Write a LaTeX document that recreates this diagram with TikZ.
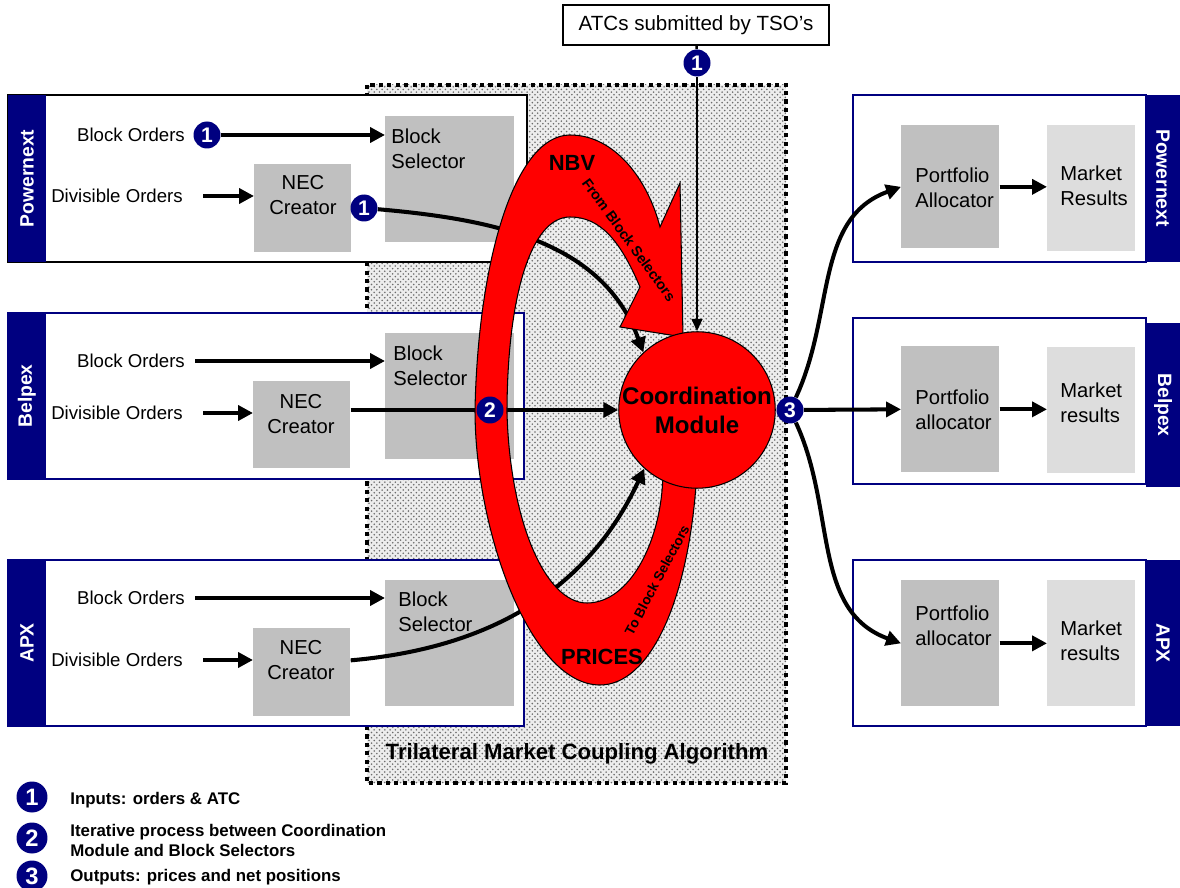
\documentclass[tikz,border=0pt]{standalone}
\usepackage{fontspec}
\setmainfont{Liberation Sans}
\usetikzlibrary{arrows.meta,patterns}

\definecolor{navy}{RGB}{0,0,128}
\definecolor{selgray}{RGB}{192,192,192}
\definecolor{resgray}{RGB}{221,221,221}

\newcommand\boxfont{\fontsize{11.5}{14.2}\selectfont}
\newcommand\ordfont{\fontsize{10.6}{12.5}\selectfont}

\pgfdeclarelayer{bg}
\pgfdeclarelayer{wires}
\pgfsetlayers{bg,wires,main}

\tikzset{
  arr/.style={line width=2.3pt, -{Triangle[length=8.5pt,width=8.5pt]}},
  badge/.style={circle, fill=navy, text=white, inner sep=0pt, minimum size=0.54cm,
    font=\bfseries\fontsize{12}{12}\selectfont},
  bigbadge/.style={badge, minimum size=0.62cm, font=\bfseries\fontsize{13.5}{13.5}\selectfont},
  exch/.style={draw=navy, line width=1.1pt, fill=white},
  stripe/.style={fill=navy},
  stripetxt/.style={text=white, inner sep=0pt, font=\bfseries\fontsize{11}{13}\selectfont},
  gbox/.style={fill=selgray, anchor=north west, inner sep=0pt},
  bsel/.style={gbox, minimum width=2.58cm, minimum height=2.52cm},
  necbox/.style={gbox, minimum width=1.94cm, minimum height=1.76cm},
  palloc/.style={gbox, minimum width=1.96cm, minimum height=2.52cm},
  mres/.style={gbox, fill=resgray, minimum width=1.76cm, minimum height=2.52cm},
  txt/.style={align=center, inner sep=0pt, font=\boxfont},
  ltxt/.style={anchor=west, align=left, inner sep=0pt, font=\boxfont},
  ord/.style={inner sep=0pt, font=\ordfont},
  ribbon/.style={fill=red, draw=black, line width=0.6pt},
  ribtxt/.style={inner sep=0pt, font=\bfseries\fontsize{8.2}{10}\selectfont},
  legtxt/.style={anchor=west, align=left, inner sep=0pt, font=\bfseries\fontsize{9.6}{11.9}\selectfont}
}

\begin{document}
\begin{tikzpicture}[x=0.02cm,y=0.02cm]
\useasboundingbox (0,0) rectangle (1180,-888);

\begin{pgfonlayer}{bg}
% algorithm area
\fill[gray!14] (367,-85) rectangle (786,-783);
\path[pattern=crosshatch dots, pattern color=gray!85!black] (367,-85) rectangle (786,-783);
\draw[line width=2.3pt, dash pattern=on 2.4pt off 2.4pt] (367,-85) rectangle (786,-783);
\node[font=\bfseries\fontsize{12.6}{15}\selectfont] (tmca) at (577,-754) {Trilateral Market Coupling Algorithm};

% Powernext
\draw[exch, draw=black] (8,-95) rectangle (527,-262);
\fill[stripe] (8,-95) rectangle (46,-262);
\node[stripetxt, rotate=90] at (27,-178.5) {Powernext};
\node[ord] (pbo) at (131,-135) {Block Orders};
\node[ord] (pdo) at (117,-196) {Divisible Orders};
\node[bsel] (pbs) at (385,-116) {};
\node[ltxt] at (391,-148.5) {Block\\Selector};
\node[necbox] (pnec) at (254,-164) {};
\node[txt] at (303,-195.5) {NEC\\Creator};

% Belpex
\draw[exch] (8,-313) rectangle (524,-479);
\fill[stripe] (8,-313) rectangle (46,-479);
\node[stripetxt, rotate=90] at (27,-396) {Belpex};
\node[ord] (bbo) at (131,-361) {Block Orders};
\node[ord] (bdo) at (117,-413) {Divisible Orders};
\node[bsel] (bbs) at (385,-333) {};
\node[ltxt] at (393,-366) {Block\\Selector};
\node[necbox, minimum height=1.74cm] (bnec) at (253,-381) {};
\node[txt] at (301,-414) {NEC\\Creator};

% APX
\draw[exch] (8,-560) rectangle (524,-726);
\fill[stripe] (8,-560) rectangle (46,-726);
\node[stripetxt, rotate=90] at (27,-643) {APX};
\node[ord] (abo) at (131,-598) {Block Orders};
\node[ord] (ado) at (117,-660) {Divisible Orders};
\node[bsel] (abs) at (385,-580) {};
\node[ltxt] at (398,-611.5) {Block\\Selector};
\node[necbox] (anec) at (253,-628) {};
\node[txt] at (301,-660.5) {NEC\\Creator};

% results side
\draw[exch] (853,-95) rectangle (1146,-262);
\fill[stripe] (1146,-95) rectangle (1180,-262);
\node[stripetxt, rotate=-90] at (1163,-178) {Powernext};
\node[palloc, minimum height=2.46cm] (rpa1) at (901,-125) {};
\node[ltxt] at (915,-187.5) {Portfolio\\Allocator};
\node[mres] (rmr1) at (1047,-125) {};
\node[ltxt] at (1060,-186) {Market\\Results};

\draw[exch] (853,-318) rectangle (1146,-484);
\fill[stripe] (1146,-323) rectangle (1180,-487);
\node[stripetxt, rotate=-90] at (1163,-405) {Belpex};
\node[palloc] (rpa2) at (901,-346) {};
\node[ltxt] at (915,-409.5) {Portfolio\\allocator};
\node[mres] (rmr2) at (1047,-347) {};
\node[ltxt] at (1060,-402.5) {Market\\results};

\draw[exch] (853,-560) rectangle (1146,-726);
\fill[stripe] (1146,-560) rectangle (1180,-726);
\node[stripetxt, rotate=-90] at (1163,-643) {APX};
\node[palloc] (rpa3) at (901,-580) {};
\node[ltxt] at (915,-626) {Portfolio\\allocator};
\node[mres] (rmr3) at (1047,-580) {};
\node[ltxt] at (1060,-641) {Market\\results};

% TSO input
\node[draw, line width=1.1pt, fill=white, minimum width=5.32cm, minimum height=0.8cm,
  font=\fontsize{11.7}{14}\selectfont] (atc) at (696,-25) {ATCs submitted by TSO’s};

% legend
\node[legtxt] at (70,-800) {Inputs: orders \& ATC};
\node[legtxt] at (70,-840.5) {Iterative process between Coordination\\Module and Block Selectors};
\node[legtxt] at (70,-877) {Outputs: prices and net positions};
\end{pgfonlayer}

% iteration loop
\draw[ribbon] (697,-470) .. controls (690,-600) and (650,-685) .. (600,-685)
  .. controls (530,-685) and (475,-530) .. (475,-410)
  .. controls (478,-260) and (515,-135) .. (570,-135)
  .. controls (615,-135) and (648,-180) .. (660,-227)
  -- (680,-183) -- (683,-337) -- (620,-327) -- (640,-287)
  .. controls (620,-240) and (600,-217) .. (570,-217)
  .. controls (530,-217) and (507,-300) .. (507,-413)
  .. controls (510,-520) and (545,-603) .. (587,-603)
  .. controls (630,-603) and (663,-540) .. (663,-470) -- cycle;
\node[ribtxt, font=\bfseries\fontsize{12.5}{14}\selectfont] at (572,-163) {NBV};
\node[ribtxt] [rotate=-54] at (629,-240) {From Block Selectors};
\node[ribtxt, font=\bfseries\fontsize{7.8}{10}\selectfont, rotate=62] at (657,-580) {To Block Selectors};
\node[ribtxt, font=\bfseries\fontsize{12.5}{14}\selectfont] at (602,-657) {PRICES};

\node[circle, draw=black, line width=0.6pt, fill=red, minimum size=3.04cm, align=center,
  inner sep=0pt, font=\bfseries\fontsize{13.7}{16.4}\selectfont] (cm) at (697,-410) {Coordination\\Module};

% numbered steps
\node[badge] (a1) at (697,-63) {1};
\node[badge] (pb1) at (207,-135) {1};
\node[badge] (pn1) at (364,-208) {1};
\node[badge] (b2) at (490,-410) {2};
\node[badge] (b3) at (790,-410) {3};
\node[bigbadge] (l1) at (32,-797) {1};
\node[bigbadge] (l2) at (32,-838) {2};
\node[bigbadge] (l3) at (32,-876) {3};

\begin{pgfonlayer}{wires}
\draw[line width=1.4pt] (atc) -- (a1);
\draw[line width=1.4pt, -{Triangle[length=7pt,width=6pt]}] (a1) -- (cm);
% Powernext
\draw[arr] (pb1) -- (pb1 -| pbs.west);
\draw[arr] ([xshift=0.4cm]pdo.east) -- (pdo.east -| pnec.west);
\draw[arr] (pn1) to[out=-5,in=110] (cm.133);
% Belpex
\draw[arr] ([xshift=0.2cm]bbo.east) -- (bbo.east -| bbs.west);
\draw[arr] ([xshift=0.4cm]bdo.east) -- (bdo.east -| bnec.west);
\draw[arr] (bnec.east |- cm.west) -- (cm.west);
% APX
\draw[arr] ([xshift=0.2cm]abo.east) -- (abo.east -| abs.west);
\draw[arr] ([xshift=0.4cm]ado.east) -- (ado.east -| anec.west);
\draw[arr] ([yshift=0.24cm]anec.east) to[out=5,in=245] (cm.228);
% results
\draw[arr] (b3) to[out=65,in=200] (rpa1.west);
\draw[arr] (b3) -- (rpa2.west);
\draw[arr] (b3) to[out=-65,in=160] (rpa3.west);
\draw[arr] (rpa1.east) -- (rpa1.east -| rmr1.west);
\draw[arr] (rpa2.east) -- (rpa2.east -| rmr2.west);
\draw[arr] (rpa3.east) -- (rpa3.east -| rmr3.west);
\end{pgfonlayer}
\end{tikzpicture}
\end{document}
